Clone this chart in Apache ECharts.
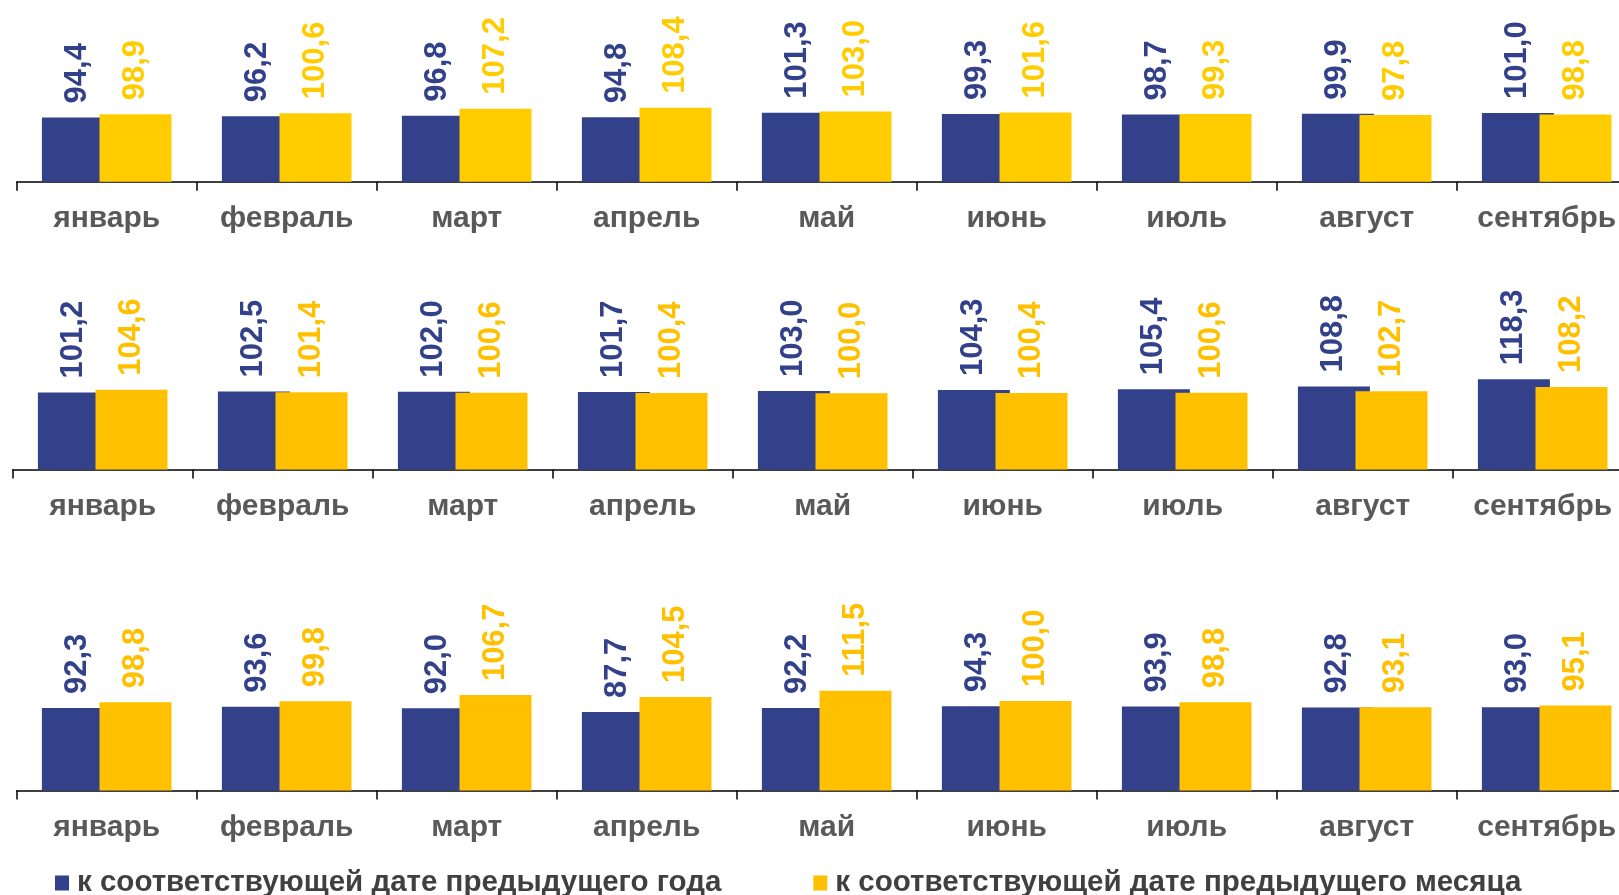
<!DOCTYPE html>
<html>
<head>
<meta charset="utf-8">
<script src="https://cdn.jsdelivr.net/npm/echarts@6/dist/echarts.min.js"></script>
<style>
html,body{margin:0;padding:0;background:#fff;overflow:hidden;width:1619px;height:895px;}
#chart{width:1660px;height:895px;}
</style>
</head>
<body>
<div id="chart"></div>
<script>
var months = ['январь','февраль','март','апрель','май','июнь','июль','август','сентябрь'];
var nameYear = 'к соответствующей дате предыдущего года';
var nameMonth = 'к соответствующей дате предыдущего месяца';

var row1Year  = [94.4, 96.2, 96.8, 94.8, 101.3, 99.3, 98.7, 99.9, 101.0];
var row1Month = [98.9, 100.6, 107.2, 108.4, 103.0, 101.6, 99.3, 97.8, 98.8];
var row2Year  = [101.2, 102.5, 102.0, 101.7, 103.0, 104.3, 105.4, 108.8, 118.3];
var row2Month = [104.6, 101.4, 100.6, 100.4, 100.0, 100.4, 100.6, 102.7, 108.2];
var row3Year  = [92.3, 93.6, 92.0, 87.7, 92.2, 94.3, 93.9, 92.8, 93.0];
var row3Month = [98.8, 99.8, 106.7, 104.5, 111.5, 100.0, 98.8, 93.1, 95.1];

var BLUE = '#32418A';
var YELLOW1 = '#FFCC00';
var YELLOW = '#FFC000';
var FONT = 'Arial, "Liberation Sans", sans-serif';

var rows = [
  {year: row1Year, month: row1Month, yellow: YELLOW1, top: 45.4, height: 136.4, left: 16.7},
  {year: row2Year, month: row2Month, yellow: YELLOW,  top: 317.1, height: 152.4, left: 12.7},
  {year: row3Year, month: row3Month, yellow: YELLOW,  top: 611.7, height: 178.8, left: 16.7}
];

function fmt(p){ return p.value.toFixed(1).replace('.', ','); }

function labelOf(color){
  return {
    show: true, position: 'top', rotate: 90, align: 'left', verticalAlign: 'middle',
    distance: 14, color: color, fontSize: 31, fontWeight: 'bold', fontFamily: FONT,
    formatter: fmt
  };
}

var grids = [], xAxes = [], yAxes = [], series = [];
rows.forEach(function(r, i){
  grids.push({left: r.left, top: r.top, width: 1620, height: r.height, containLabel: false});
  xAxes.push({
    type: 'category', gridIndex: i, data: months,
    axisLine: {show: true, lineStyle: {color: '#000', width: 1.5}},
    axisTick: {show: true, length: 9, lineStyle: {color: '#000', width: 1.5}},
    axisLabel: {interval: 0, margin: 22, color: '#595959', fontSize: 30, fontWeight: 'bold', fontFamily: FONT}
  });
  yAxes.push({
    type: 'value', gridIndex: i, min: 0, max: 200, show: false,
    splitLine: {show: false}
  });
  series.push({
    name: nameYear, type: 'bar', xAxisIndex: i, yAxisIndex: i, data: r.year,
    barWidth: '40%', barGap: '-20%',
    itemStyle: {color: BLUE}, label: labelOf(BLUE), emphasis: {disabled: true}
  });
  series.push({
    name: nameMonth, type: 'bar', xAxisIndex: i, yAxisIndex: i, data: r.month,
    barWidth: '40%', barGap: '-20%',
    itemStyle: {color: r.yellow}, label: labelOf(r.yellow), emphasis: {disabled: true}
  });
});

var chart = echarts.init(document.getElementById('chart'), null, {renderer: 'canvas'});
chart.setOption({
  backgroundColor: '#fff',
  animation: false,
  grid: grids,
  xAxis: xAxes,
  yAxis: yAxes,
  legend: {
    left: 55, top: 868, padding: 0, itemWidth: 14, itemHeight: 15, itemGap: 92,
    icon: 'rect',
    data: [
      {name: nameYear, itemStyle: {color: BLUE}},
      {name: nameMonth, itemStyle: {color: YELLOW}}
    ],
    textStyle: {color: '#404040', fontSize: 29.5, fontWeight: 'bold', fontFamily: FONT, lineHeight: 30, padding: [0, 0, 0, 3]}
  },
  series: series
});
</script>
</body>
</html>
